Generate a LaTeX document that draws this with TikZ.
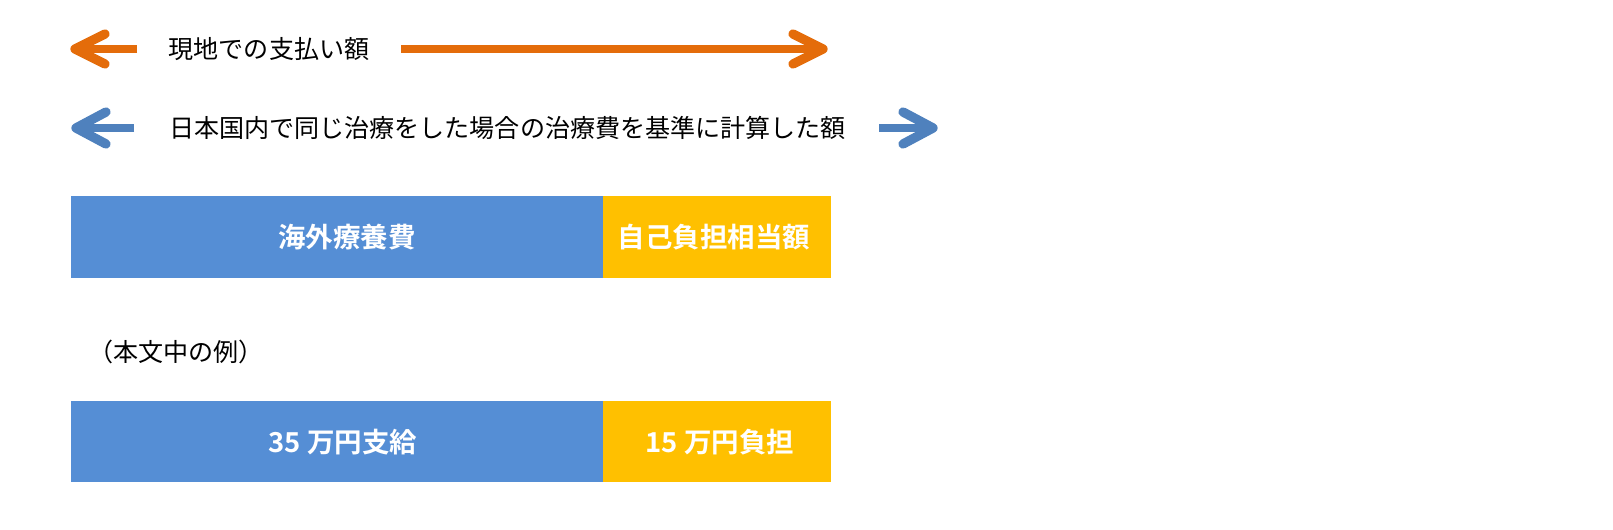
\documentclass[tikz,border=0pt]{standalone}
\usepackage{fontspec}
\newfontfamily\jpfont{Noto Sans CJK JP}[BoldFont={Noto Sans CJK JP Bold}]
\usetikzlibrary{calc}
\definecolor{arrorange}{HTML}{E46C0A}
\definecolor{arrblue}{HTML}{4F81BD}
\definecolor{barblue}{HTML}{558ED5}
\definecolor{baryellow}{HTML}{FFC000}
\tikzset{
  shaft/.style={line width=6.2pt, line cap=butt},
  chev/.style={line width=7pt, line cap=round, line join=round},
  lbl/.style={font=\jpfont\fontsize{18.8pt}{22pt}\selectfont, inner sep=0pt, text=black},
  barlbl/.style={font=\jpfont\bfseries\fontsize{20.6pt}{24pt}\selectfont, inner sep=0pt, text=white},
  barbox/.style={draw=none, inner sep=0pt, minimum height=61.5pt}
}
\begin{document}
\begin{tikzpicture}[x=0.75pt,y=-0.75pt]
\useasboundingbox[fill=white] (0,0) rectangle (1613,530);

% --- orange arrow row
\coordinate (oL) at (75,49);
\coordinate (oLs) at (137,49);
\coordinate (oRs) at (401,49);
\coordinate (oR) at (823,49);
\node[lbl] (t1) at (269,49) {現地での支払い額};
\draw[shaft, arrorange] (oLs) -- (oL);
\draw[chev, arrorange] ($(oL)+(30,-15)$) -- (oL) -- ($(oL)+(30,15)$);
\draw[shaft, arrorange] (oRs) -- (oR);
\draw[chev, arrorange] ($(oR)+(-30,-15)$) -- (oR) -- ($(oR)+(-30,15)$);

% --- blue arrow row
\coordinate (bL) at (76,128);
\coordinate (bLs) at (134,128);
\coordinate (bRs) at (879,128);
\coordinate (bR) at (933,128);
\node[lbl] (t2) at (507.5,128) {日本国内で同じ治療をした場合の治療費を基準に計算した額};
\draw[shaft, arrblue] (bLs) -- (bL);
\draw[chev, arrblue] ($(bL)+(30,-16)$) -- (bL) -- ($(bL)+(30,16)$);
\draw[shaft, arrblue] (bRs) -- (bR);
\draw[chev, arrblue] ($(bR)+(-30,-16)$) -- (bR) -- ($(bR)+(-30,16)$);

% --- top bar
\fill[barblue] (71,196) rectangle (603,278);
\fill[baryellow] (603,196) rectangle (831,278);
\node[barlbl] (b1) at (347,237) {海外療養費};
\node[barlbl] (b2) at (714,237) {自己負担相当額};

% --- example label
\node[lbl] (ex) at (176,352) {（本文中の例）};

% --- bottom bar
\fill[barblue] (71,401) rectangle (603,482);
\fill[baryellow] (603,401) rectangle (831,482);
\node[barlbl] (c1) at (343,442) {35 万円支給};
\node[barlbl] (c2) at (720,442) {15 万円負担};
\end{tikzpicture}
\end{document}
